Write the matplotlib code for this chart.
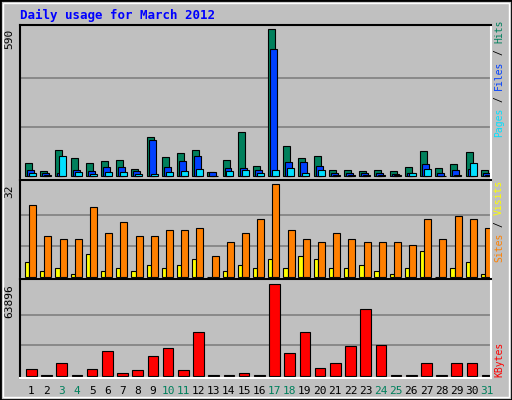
import matplotlib
matplotlib.use("Agg")
import matplotlib.pyplot as plt
from matplotlib.patches import Rectangle

days = list(range(1, 32))
weekend = [3, 4, 10, 11, 17, 18, 24, 25, 31]

hits = [53, 21, 105, 73, 53, 61, 65, 29, 158, 77, 93, 105, 17, 65, 178, 41,
        590, 121, 73, 81, 25, 25, 21, 25, 21, 37, 101, 33, 49, 97, 25]
files = [25, 13, 13, 25, 21, 37, 37, 21, 146, 37, 61, 81, 17, 33, 33, 25,
         510, 57, 57, 41, 13, 13, 13, 13, 9, 13, 49, 13, 25, 29, 13]
pages = [13, 5, 81, 17, 9, 17, 17, 9, 9, 17, 21, 29, 0, 21, 25, 13,
         25, 33, 13, 25, 5, 5, 5, 5, 5, 13, 29, 0, 5, 53, 5]
visits = [25, 14, 13, 13, 24, 15, 19, 14, 14, 16, 16, 17, 7, 12, 15, 20,
          32, 16, 13, 12, 15, 13, 12, 12, 12, 11, 20, 13, 21, 20, 17]
sites = [5, 2, 3, 1, 8, 2, 3, 2, 4, 3, 4, 6, 0, 2, 4, 3,
         6, 3, 7, 6, 3, 3, 4, 2, 1, 3, 9, 0, 3, 5, 1]
kbytes = [4400, 500, 8600, 500, 4400, 17000, 1600, 3700, 13500, 19100, 3700, 30300,
          500, 500, 1600, 500, 63896, 15600, 30300, 5100, 8600, 20500, 46400, 21500,
          500, 500, 8600, 500, 8600, 8600, 500]

BG = "#c0c0c0"
C_HITS, C_FILES, C_PAGES = "#00805c", "#0040ff", "#00e0ff"
C_SITES, C_VISITS, C_KB = "#ffff00", "#ff8000", "#ff0000"
FONT = "DejaVu Sans Mono"

W, H = 512, 400
fig = plt.figure(figsize=(W / 100, H / 100), dpi=100, facecolor=BG)
fig.patches.append(Rectangle((0, 0), 1, 1, transform=fig.transFigure, fill=False,
                             edgecolor="black", lw=2))
fig.patches.append(Rectangle((3 / W, 3 / H), 1 - 6 / W, 1 - 6 / H, transform=fig.transFigure,
                             fill=False, edgecolor="white", lw=1))


def panel(top, bottom, base_px, max_px, vmax):
    # pixel rows -> axes, with baseline/max placed like the original
    ax = fig.add_axes([20 / W, 1 - bottom / H, 471 / W, (bottom - top) / H])
    ax.set_facecolor(BG)
    k = vmax / (max_px - base_px)
    ax.set_ylim(-base_px * k, (bottom - top - base_px) * k)
    ax.set_xlim(0.5, 31.5)
    for g in (vmax / 3, 2 * vmax / 3):
        ax.axhline(g, color="#808080", lw=1.2, zorder=0)
    ax.set_xticks([])
    ax.set_yticks([])
    for s in ("left", "top"):
        ax.spines[s].set_color("black")
    for s in ("right", "bottom"):
        ax.spines[s].set_color("white")
    for s in ax.spines.values():
        s.set_linewidth(1.5)
    ax.text(-6 / 471, max_px / (bottom - top), f"{vmax}",
            transform=ax.transAxes, rotation=90, ha="right", va="top",
            fontsize=8, family=FONT)
    return ax


def bars(ax, off, width, vals, color):
    ax.bar([d + off for d in days], vals, width=width, align="edge", color=color,
           edgecolor="black", linewidth=0.8, zorder=2)


ax1 = panel(25, 180, 4, 151, 590)
bars(ax1, -0.17, 0.46, hits, C_HITS)
bars(ax1, -0.04, 0.46, files, C_FILES)
bars(ax1, 0.09, 0.46, pages, C_PAGES)

ax2 = panel(180, 279, 2.3, 94.7, 32)
bars(ax2, -0.17, 0.28, sites, C_SITES)
bars(ax2, 0.11, 0.46, visits, C_VISITS)

ax3 = panel(279, 378, 2.3, 93.7, 63896)
bars(ax3, -0.1, 0.7, kbytes, C_KB)

for d in days:
    ax3.text(d + 0.25, -13 / 99, str(d), transform=ax3.get_xaxis_transform(),
             ha="center", va="center", fontsize=8, family=FONT,
             color=C_HITS if d in weekend else "black")

fig.text(20 / W, 1 - 15 / H, "Daily usage for March 2012", color="#0000ff",
         fontsize=9, fontweight="bold", family=FONT, va="center")

CHAR_PX = 5.85  # width of one char at 7pt mono, 100 dpi


def side_label(y_bottom, parts):
    # stacked rotated words, reading bottom to top
    y = y_bottom
    for word, col in parts:
        fig.text(499 / W, 1 - y / H, word, rotation=90, color=col, fontsize=7,
                 family=FONT, ha="center", va="bottom")
        y -= (len(word) + 1) * CHAR_PX


side_label(137, [("Pages", C_PAGES), ("/", "black"), ("Files", C_FILES),
                 ("/", "black"), ("Hits", C_HITS)])
side_label(262, [("Sites", C_VISITS), ("/", "black"), ("Visits", C_SITES)])
side_label(377, [("KBytes", C_KB)])

fig.savefig("out.png", dpi=100, facecolor=BG)
